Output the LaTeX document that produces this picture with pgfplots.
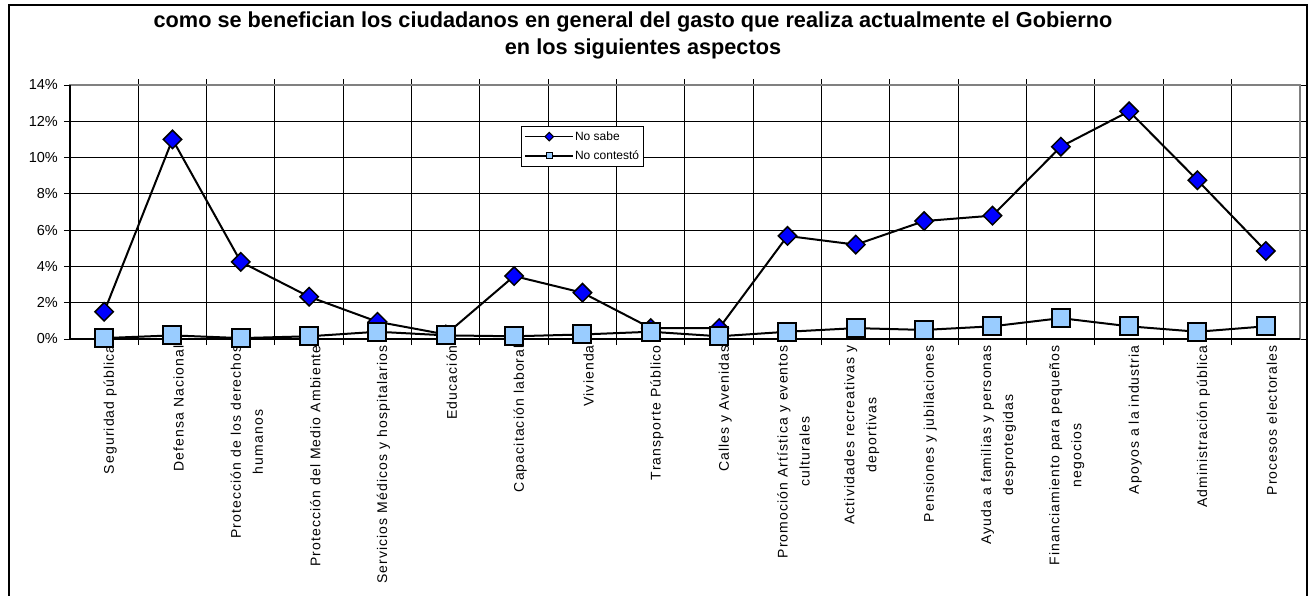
\documentclass[border=0pt]{standalone}
\usepackage{pgfplots}
\pgfplotsset{compat=1.18}
\usepackage{fontspec}
\setmainfont{Liberation Sans}
\definecolor{dblue}{HTML}{0000FF}
\definecolor{lblue}{HTML}{99CCFF}
\begin{document}
\begin{tikzpicture}
\useasboundingbox (0,0) rectangle (1314pt,-596pt);
\draw[line width=1.5pt] (9pt,-600pt) -- (9pt,-5pt) -- (1307pt,-5pt) -- (1307pt,-600pt);
\node[font=\bfseries\fontsize{21.7}{27}\selectfont, anchor=base] at (633pt,-28pt) {como se benefician los ciudadanos en general del gasto que realiza actualmente el Gobierno};
\node[font=\bfseries\fontsize{21.7}{27}\selectfont, anchor=base] at (643pt,-55pt) {en los siguientes aspectos};
\begin{axis}[
  at={(70pt,-339pt)}, anchor=south west,
  scale only axis, width=1230pt, height=254pt,
  xmin=-0.5, xmax=17.5, ymin=0, ymax=14,
  clip=false,
  axis line style={draw=gray, line width=2pt},
  xtick={0,...,17},
  xticklabels={Seguridad pública, Defensa Nacional, {Protección de los derechos\\humanos}, Protección del Medio Ambiente, Servicios Médicos y hospitalarios, Educación, Capacitación laboral, Vivienda, Transporte Público, Calles y Avenidas, {Promoción Artística y eventos\\culturales}, {Actividades recreativas y\\deportivas}, Pensiones y jubilaciones, {Ayuda a familias y personas\\desprotegidas}, {Financiamiento para pequeños\\negocios}, Apoyos a la industria, Administración pública, Procesos electorales},
  xticklabel style={rotate=90, anchor=east, align=center, font=\fontsize{14}{22}\selectfont\addfontfeature{LetterSpace=8}, inner sep=0pt, yshift=-6pt},
  major x tick style={draw=none},
  minor xtick={0.5,1.5,...,16.5},
  xminorgrids=true,
  minor x grid style={black, line width=1pt},
  minor x tick style={black, line width=1pt},
  ytick={0,2,...,14},
  yticklabels={0\%,2\%,4\%,6\%,8\%,10\%,12\%,14\%},
  yticklabel style={font=\fontsize{14.5}{17}\selectfont, inner sep=0pt, xshift=-6pt},
  ymajorgrids=true,
  major y grid style={black, line width=1pt},
  major y tick style={black, line width=1pt},
  tick align=outside,
  major tick length=6pt, minor tick length=6pt,
  legend style={at={(0.3667,0.8386)}, anchor=north west, draw=black, line width=1pt,
    font=\fontsize{12}{14}\selectfont, inner xsep=3pt, inner ysep=4pt, row sep=7pt,
    nodes={inner sep=1pt}},
  legend cell align=left,
  legend image code/.code={\draw[#1, mark repeat=2, mark phase=2] plot coordinates {(0pt,0pt) (24pt,0pt) (48pt,0pt)};},
]
\addplot[black, line width=2pt, mark=square*, mark size=6.5pt, mark options={rotate=45, fill=dblue, draw=black, line width=1.5pt}, forget plot] coordinates {
(0,1.5) (1,11.0) (2,4.25) (3,2.33) (4,0.95) (5,0.25) (6,3.47) (7,2.55) (8,0.6)
(9,0.6) (10,5.68) (11,5.2) (12,6.5) (13,6.8) (14,10.6) (15,12.55) (16,8.75) (17,4.85)};
\addplot[black, line width=2pt, mark=square*, mark size=9pt, mark options={fill=lblue, draw=black, line width=2pt}, forget plot] coordinates {
(0,0.05) (1,0.2) (2,0.05) (3,0.15) (4,0.4) (5,0.2) (6,0.15) (7,0.25) (8,0.4)
(9,0.15) (10,0.4) (11,0.6) (12,0.5) (13,0.7) (14,1.15) (15,0.7) (16,0.4) (17,0.7)};
\addlegendimage{black, line width=1.5pt, mark=square*, mark options={rotate=45, fill=dblue, draw=black, mark size=3pt, line width=1pt}}
\addlegendentry{No sabe}
\addlegendimage{black, line width=1.5pt, mark=square*, mark options={fill=lblue, draw=black, mark size=3pt, line width=1pt}}
\addlegendentry{No contestó}
\draw[black, line width=2pt] (rel axis cs:0,1) -- (rel axis cs:0,0) -- (rel axis cs:1,0);
\end{axis}
\end{tikzpicture}
\end{document}
